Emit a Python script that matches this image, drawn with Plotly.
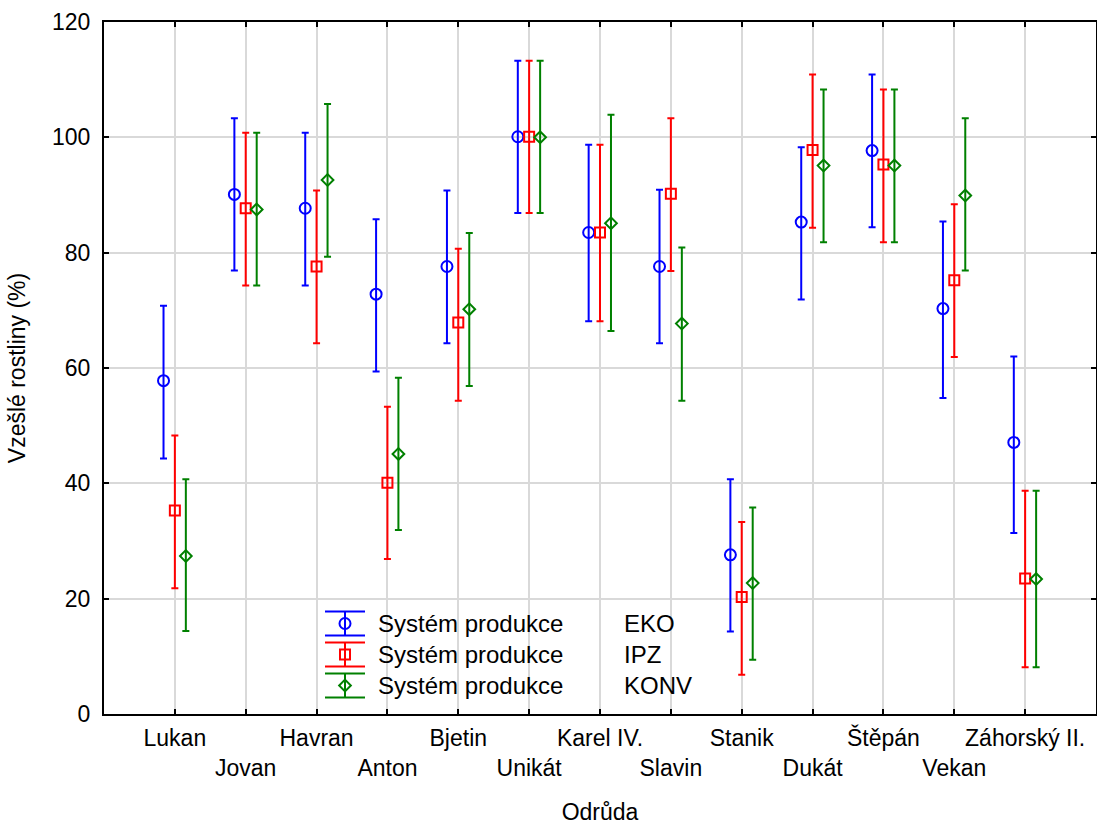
import plotly.graph_objects as go

# ---------------- data ----------------
categories = ["Lukan", "Jovan", "Havran", "Anton", "Bjetin", "Unikát", "Karel IV.",
              "Slavin", "Stanik", "Dukát", "Štěpán", "Vekan", "Záhorský II."]

eko_mean  = [57.8, 90.1, 87.7, 72.8, 77.6, 100.1, 83.5, 77.6, 27.6, 85.3, 97.7, 70.3, 47.1]
eko_upper = [70.8, 103.3, 100.8, 85.8, 90.8, 113.3, 98.7, 90.9, 40.7, 98.3, 110.9, 85.4, 62.0]
eko_lower = [44.3, 76.9, 74.3, 59.4, 64.3, 86.9, 68.1, 64.3, 14.3, 71.9, 84.4, 54.8, 31.4]

ipz_mean  = [35.3, 87.7, 77.6, 40.1, 67.9, 100.1, 83.5, 90.2, 20.3, 97.8, 95.3, 75.2, 23.5]
ipz_upper = [48.3, 100.8, 90.8, 53.3, 80.7, 113.3, 98.7, 103.3, 33.3, 110.9, 108.3, 88.4, 38.7]
ipz_lower = [21.8, 74.3, 64.3, 26.9, 54.3, 86.9, 68.1, 76.8, 6.8, 84.3, 81.8, 61.9, 8.1]

konv_mean  = [27.4, 87.5, 92.6, 45.1, 70.2, 100.0, 85.1, 67.7, 22.7, 95.1, 95.1, 89.9, 23.4]
konv_upper = [40.7, 100.8, 105.8, 58.3, 83.4, 113.3, 103.9, 80.9, 35.8, 108.3, 108.3, 103.3, 38.7]
konv_lower = [14.4, 74.3, 79.3, 31.9, 56.9, 86.9, 66.4, 54.3, 9.4, 81.8, 81.8, 76.9, 8.1]

series_names = ["EKO", "IPZ", "KONV"]
legend_prefix = "Systém produkce"
x_title = "Odrůda"
y_title = "Vzešlé rostliny (%)"
y_ticks = [0, 20, 40, 60, 80, 100, 120]

# ---------------- styling ----------------
FONT = "Liberation Sans, Arial, sans-serif"
FS = 23
colors = ["#0000ff", "#ff0000", "#008000"]
symbols = ["circle-open", "square-open", "diamond-open"]
sizes = [11, 10, 9]
offsets = [-0.16, 0.0, 0.155]

series = [
    (eko_mean, eko_upper, eko_lower),
    (ipz_mean, ipz_upper, ipz_lower),
    (konv_mean, konv_upper, konv_lower),
]

fig = go.Figure()
for k, (m, up, lo) in enumerate(series):
    xs = [i + offsets[k] for i in range(len(categories))]
    fig.add_trace(go.Scatter(
        x=xs, y=m, mode="markers", name=series_names[k],
        marker=dict(symbol=symbols[k], size=sizes[k], color=colors[k],
                    line=dict(width=2, color=colors[k])),
        error_y=dict(type="data", symmetric=False,
                     array=[u - v for u, v in zip(up, m)],
                     arrayminus=[v - l for v, l in zip(m, lo)],
                     color=colors[k], thickness=2, width=3.5),
        showlegend=False, hoverinfo="skip",
    ))

# ---------------- manual legend (pixel overlay axes) ----------------
leg_rows = [623.5, 654.5, 685.5]
leg_sym_x = 345
leg_txt_x = 376
leg_val_x = 622
for k in range(3):
    fig.add_trace(go.Scatter(
        x=[leg_sym_x], y=[leg_rows[k]], xaxis="x2", yaxis="y2", mode="markers",
        marker=dict(symbol=symbols[k], size=sizes[k], color=colors[k],
                    line=dict(width=2, color=colors[k])),
        error_y=dict(type="constant", value=12, color=colors[k], thickness=2, width=20),
        showlegend=False, hoverinfo="skip",
    ))
    fig.add_annotation(x=leg_txt_x, y=leg_rows[k], xref="x2", yref="y2",
                       text=legend_prefix, showarrow=False, xanchor="left", yanchor="middle",
                       font=dict(family=FONT, size=24, color="black"))
    fig.add_annotation(x=leg_val_x, y=leg_rows[k], xref="x2", yref="y2",
                       text=series_names[k], showarrow=False, xanchor="left", yanchor="middle",
                       font=dict(family=FONT, size=24, color="black"))

ticktext = [c if i % 2 == 0 else "<br>" + c for i, c in enumerate(categories)]

axis_common = dict(
    showline=True, linecolor="black", linewidth=2, mirror="ticks",
    ticks="inside", ticklen=5, tickwidth=2, tickcolor="black",
    showgrid=True, gridcolor="#d9d9d9", gridwidth=2, zeroline=False,
    automargin=False, tickfont=dict(family=FONT, size=FS, color="black"),
)

fig.update_layout(
    width=1097, height=825,
    margin=dict(l=104, r=1, t=22, b=111),
    paper_bgcolor="white", plot_bgcolor="white",
    font=dict(family=FONT, size=FS, color="black"),
    showlegend=False, hovermode=False,
    xaxis=dict(range=[-1, 13], tickmode="array", tickvals=list(range(len(categories))),
               ticktext=ticktext, tickangle=0, ticklabelstandoff=2,
               title=dict(text=x_title, standoff=30, font=dict(family=FONT, size=FS)),
               **axis_common),
    yaxis=dict(range=[0, 120], tickmode="array", tickvals=y_ticks, ticklabelstandoff=7,
               title=dict(text=y_title, standoff=20, font=dict(family=FONT, size=FS)),
               **axis_common),
    xaxis2=dict(overlaying="x", range=[104, 1096], visible=False, fixedrange=True),
    yaxis2=dict(overlaying="y", range=[714, 22], visible=False, fixedrange=True),
)

fig.write_html("out.html")
